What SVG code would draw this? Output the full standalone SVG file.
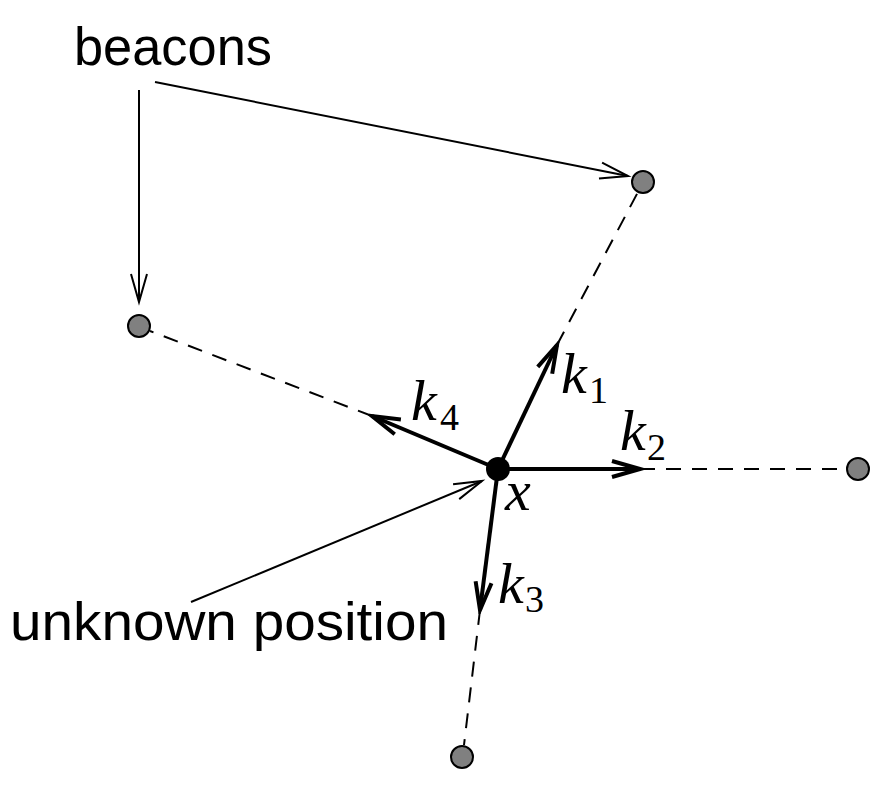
<svg xmlns="http://www.w3.org/2000/svg" width="884" height="787" viewBox="0 0 884 787">
<style>
.lbl{font-family:"Liberation Sans",Arial,sans-serif;font-size:54px;fill:#000}
.math{font-family:"Liberation Serif","Times New Roman",serif;font-style:italic;font-size:58px;fill:#000}
.sub{font-family:"Liberation Serif","Times New Roman",serif;font-size:38px;fill:#000}
.beacon{fill:#808080;stroke:#000;stroke-width:2}
.thin{stroke:#000;stroke-width:2;fill:none}
.thick{stroke:#000;stroke-width:4;fill:none}
.dash{stroke:#000;stroke-width:2;fill:none;stroke-dasharray:15 11}
</style>
<defs>
<marker id="openThin" markerUnits="userSpaceOnUse" viewBox="-32 -12 36 24" refX="0" refY="0" markerWidth="36" markerHeight="24" orient="auto">
<path d="M-28,-8 L0,0 L-28,8" fill="none" stroke="#000" stroke-width="2" stroke-linejoin="miter"/>
</marker>
<marker id="openThick" markerUnits="userSpaceOnUse" viewBox="-32 -12 36 24" refX="0" refY="0" markerWidth="36" markerHeight="24" orient="auto">
<path d="M-28,-8 L0,0 L-28,8" fill="none" stroke="#000" stroke-width="4" stroke-linejoin="miter"/>
</marker>
</defs>
<rect width="884" height="787" fill="#fff"/>
<g id="connectors">
<line class="dash" x1="557" y1="345" x2="638" y2="192"/>
<line class="dash" x1="640" y1="469" x2="846" y2="469"/>
<line class="dash" x1="480" y1="610" x2="464" y2="745"/>
<line class="dash" x1="372" y1="416" x2="150" y2="331"/>
<line class="thick" x1="498" y1="469" x2="557" y2="345" marker-end="url(#openThick)"/>
<line class="thick" x1="498" y1="469" x2="640" y2="469" marker-end="url(#openThick)"/>
<line class="thick" x1="498" y1="469" x2="480" y2="610" marker-end="url(#openThick)"/>
<line class="thick" x1="498" y1="469" x2="372" y2="416" marker-end="url(#openThick)"/>
<line class="thin" x1="155" y1="82" x2="628" y2="176" marker-end="url(#openThin)"/>
<line class="thin" x1="139" y1="90" x2="139" y2="302" marker-end="url(#openThin)"/>
<line class="thin" x1="191" y1="602" x2="482" y2="481" marker-end="url(#openThin)"/>
</g>
<g id="beacon-top"><circle class="beacon" cx="643" cy="182" r="11"/></g>
<g id="beacon-left"><circle class="beacon" cx="139" cy="326" r="11"/></g>
<g id="beacon-right"><circle class="beacon" cx="858" cy="469" r="11"/></g>
<g id="beacon-bottom"><circle class="beacon" cx="462" cy="757" r="11"/></g>
<g id="position-x"><circle cx="498" cy="469" r="12" fill="#000"/>
<text class="math" x="505" y="510">x</text></g>
<g id="label-beacons"><text class="lbl" x="74" y="65" textLength="198" lengthAdjust="spacingAndGlyphs">beacons</text></g>
<g id="label-unknown"><text class="lbl" x="10" y="640" textLength="438" lengthAdjust="spacingAndGlyphs">unknown position</text></g>
<g id="label-k1"><text class="math" x="561" y="393">k</text><text class="sub" x="589" y="403">1</text></g>
<g id="label-k2"><text class="math" x="620" y="450">k</text><text class="sub" x="647" y="460">2</text></g>
<g id="label-k3"><text class="math" x="498" y="603">k</text><text class="sub" x="525" y="612">3</text></g>
<g id="label-k4"><text class="math" x="411" y="420">k</text><text class="sub" x="440" y="430">4</text></g>
</svg>
